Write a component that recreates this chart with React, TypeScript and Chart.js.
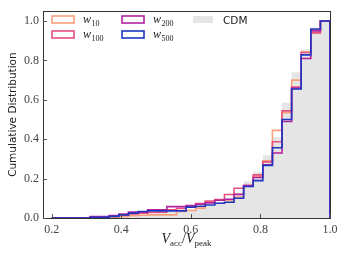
import React, { useEffect, useRef } from "react";
import { Chart, registerables } from "chart.js";

Chart.register(...registerables);

// ---- data ----
const BIN_MIN = 0.2;
const BIN_MAX = 1.0;
const N_BINS = 29;
const binEdges: number[] = Array.from({ length: N_BINS + 1 }, (_, k) => BIN_MIN + (k * (BIN_MAX - BIN_MIN)) / N_BINS);

const xTicks = [0.2, 0.4, 0.6, 0.8, 1.0];
const yTicks = [0.0, 0.2, 0.4, 0.6, 0.8, 1.0];

const cdm = [0, 0, 0, 0, 0.002, 0.004, 0.006, 0.009, 0.012, 0.016, 0.02, 0.025, 0.03, 0.037, 0.045, 0.055, 0.066, 0.08, 0.1, 0.13, 0.185, 0.235, 0.32, 0.41, 0.585, 0.74, 0.857, 0.965, 1.0];
const w10 = [0, 0, 0, 0, 0, 0.002, 0.004, 0.008, 0.012, 0.014, 0.016, 0.016, 0.016, 0.033, 0.038, 0.05, 0.082, 0.09, 0.09, 0.107, 0.161, 0.21, 0.29, 0.445, 0.535, 0.7, 0.843, 0.955, 1.0];
const w100 = [0, 0, 0, 0, 0.005, 0.006, 0.01, 0.014, 0.02, 0.025, 0.028, 0.03, 0.041, 0.049, 0.058, 0.074, 0.086, 0.094, 0.119, 0.151, 0.165, 0.219, 0.285, 0.387, 0.544, 0.665, 0.84, 0.94, 1.0];
const w200 = [0, 0, 0, 0, 0.007, 0.007, 0.012, 0.02, 0.03, 0.03, 0.041, 0.041, 0.058, 0.058, 0.063, 0.07, 0.077, 0.09, 0.095, 0.12, 0.165, 0.206, 0.27, 0.33, 0.49, 0.66, 0.81, 0.95, 1.0];
const w500 = [0, 0, 0, 0, 0.003, 0.003, 0.008, 0.016, 0.025, 0.033, 0.036, 0.036, 0.036, 0.036, 0.055, 0.06, 0.066, 0.075, 0.08, 0.1, 0.16, 0.19, 0.267, 0.357, 0.5, 0.655, 0.828, 0.96, 1.0];

const seriesLabels = ["10", "100", "200", "500"];
const colors = ["#f7a07c", "#e8507c", "#b3229e", "#1c36c2"];
const CDM_COLOR = "#e5e5e5";

function toSteps(values: number[]) {
  const pts = values.map((v, k) => ({ x: binEdges[k], y: v }));
  pts.push({ x: BIN_MAX, y: values[values.length - 1] });
  pts.push({ x: BIN_MAX, y: 0 });
  return pts;
}

const SERIF = "'Liberation Serif', 'DejaVu Serif', serif";
const SANS = "'DejaVu Sans', sans-serif";

const decorPlugin = {
  id: "decor",
  afterDraw(chart: any) {
    const ctx = chart.ctx as CanvasRenderingContext2D;
    const { left, right, top, bottom } = chart.chartArea;
    const xs = chart.scales.x;
    const ys = chart.scales.y;
    ctx.save();
    // frame
    ctx.strokeStyle = "#333";
    ctx.lineWidth = 1;
    ctx.strokeRect(Math.round(left) + 0.5, Math.round(top) + 0.5, Math.round(right - left), Math.round(bottom - top));
    // inward ticks
    ctx.strokeStyle = "#555";
    ctx.beginPath();
    xTicks.forEach((v) => {
      const px = Math.round(xs.getPixelForValue(v)) + 0.5;
      ctx.moveTo(px, bottom);
      ctx.lineTo(px, bottom - 4);
    });
    yTicks.forEach((v) => {
      const py = Math.round(ys.getPixelForValue(v)) + 0.5;
      ctx.moveTo(left, py);
      ctx.lineTo(left + 4, py);
    });
    ctx.stroke();

    ctx.fillStyle = "#222";
    ctx.textBaseline = "alphabetic";
    // y title
    ctx.save();
    ctx.translate(16, (top + bottom) / 2);
    ctx.rotate(-Math.PI / 2);
    ctx.font = `10.5px ${SANS}`;
    ctx.textAlign = "center";
    ctx.fillText("Cumulative Distribution", 0, 0);
    ctx.restore();

    // x title: V_acc / V_peak
    ctx.textAlign = "left";
    const big = `italic 14px ${SERIF}`;
    const sub = `9px ${SERIF}`;
    const slash = `14px ${SERIF}`;
    const parts: [string, string, number][] = [
      ["V", big, 0],
      ["acc", sub, 3],
      ["/", slash, 0],
      ["V", big, 0],
      ["peak", sub, 3],
    ];
    let total = 0;
    parts.forEach(([t, f]) => {
      ctx.font = f;
      total += ctx.measureText(t).width;
    });
    let cx = (left + right) / 2 - total / 2;
    const baseY = 243;
    parts.forEach(([t, f, dy]) => {
      ctx.font = f;
      ctx.fillText(t, cx, baseY + dy);
      cx += ctx.measureText(t).width;
    });

    // legend
    const boxW = 22;
    const boxH = 7;
    const entries = [
      { col: 0, row: 0, i: 0 },
      { col: 0, row: 1, i: 1 },
      { col: 1, row: 0, i: 2 },
      { col: 1, row: 1, i: 3 },
    ];
    const colX = [52, 122];
    const rowY = [16, 31];
    ctx.lineWidth = 1.6;
    entries.forEach(({ col, row, i }) => {
      const bx = colX[col];
      const by = rowY[row];
      ctx.strokeStyle = colors[i];
      ctx.strokeRect(bx, by, boxW, boxH);
      ctx.fillStyle = "#222";
      const tx = bx + boxW + 9;
      const ty = by + 7;
      ctx.font = `italic 12px ${SERIF}`;
      ctx.fillText("w", tx, ty);
      const ww = ctx.measureText("w").width;
      ctx.font = `8px ${SERIF}`;
      ctx.fillText(seriesLabels[i], tx + ww + 0.5, ty + 2.5);
    });
    ctx.fillStyle = CDM_COLOR;
    ctx.fillRect(193, 16, 20, 7);
    ctx.fillStyle = "#222";
    ctx.font = `10.5px ${SANS}`;
    ctx.fillText("CDM", 223, 23.5);
    ctx.restore();
  },
};

export default function App() {
  const ref = useRef<HTMLCanvasElement | null>(null);
  useEffect(() => {
    document.body.style.margin = "0";
    if (!ref.current) return;
    const lineDs = (vals: number[], i: number) => ({
      label: "w" + seriesLabels[i],
      data: toSteps(vals),
      borderColor: colors[i],
      backgroundColor: colors[i],
      borderWidth: 1.6,
      pointRadius: 0,
      stepped: "before" as const,
      fill: false,
      order: 4 - i,
      borderJoinStyle: "miter" as const,
    });
    const chart = new Chart(ref.current, {
      type: "line",
      data: {
        datasets: [
          {
            label: "CDM",
            data: toSteps(cdm),
            borderWidth: 0,
            borderColor: "rgba(0,0,0,0)",
            backgroundColor: CDM_COLOR,
            pointRadius: 0,
            stepped: "before",
            fill: "origin",
            order: 10,
          } as any,
          lineDs(w10, 0),
          lineDs(w100, 1),
          lineDs(w200, 2),
          lineDs(w500, 3),
        ],
      },
      options: {
        animation: false,
        responsive: false,
        events: [],
        layout: { padding: { top: 6, right: 14, left: 0, bottom: 0 } },
        plugins: { legend: { display: false }, tooltip: { enabled: false } },
        scales: {
          x: {
            type: "linear",
            min: 0.175,
            max: 1.0,
            grid: { display: false, drawTicks: false },
            border: { display: false },
            afterFit: (s: any) => {
              s.height = 40;
            },
            afterBuildTicks: (s: any) => {
              s.ticks = xTicks.map((v) => ({ value: v }));
            },
            ticks: {
              padding: 5,
              color: "#444",
              font: { family: SERIF, size: 12 },
              callback: (v: any) => Number(v).toFixed(1),
              maxRotation: 0,
            },
          },
          y: {
            type: "linear",
            min: 0,
            max: 1.05,
            grid: { display: false, drawTicks: false },
            border: { display: false },
            afterFit: (s: any) => {
              s.width = 43;
            },
            afterBuildTicks: (s: any) => {
              s.ticks = yTicks.map((v) => ({ value: v }));
            },
            ticks: {
              padding: 4,
              color: "#444",
              font: { family: SERIF, size: 12 },
              callback: (v: any) => Number(v).toFixed(1),
            },
          },
        },
      },
      plugins: [decorPlugin],
    });
    return () => chart.destroy();
  }, []);
  return (
    <div style={{ width: 344, height: 258 }}>
      <canvas ref={ref} width={344} height={258} style={{ width: 344, height: 258, display: "block" }} />
    </div>
  );
}
